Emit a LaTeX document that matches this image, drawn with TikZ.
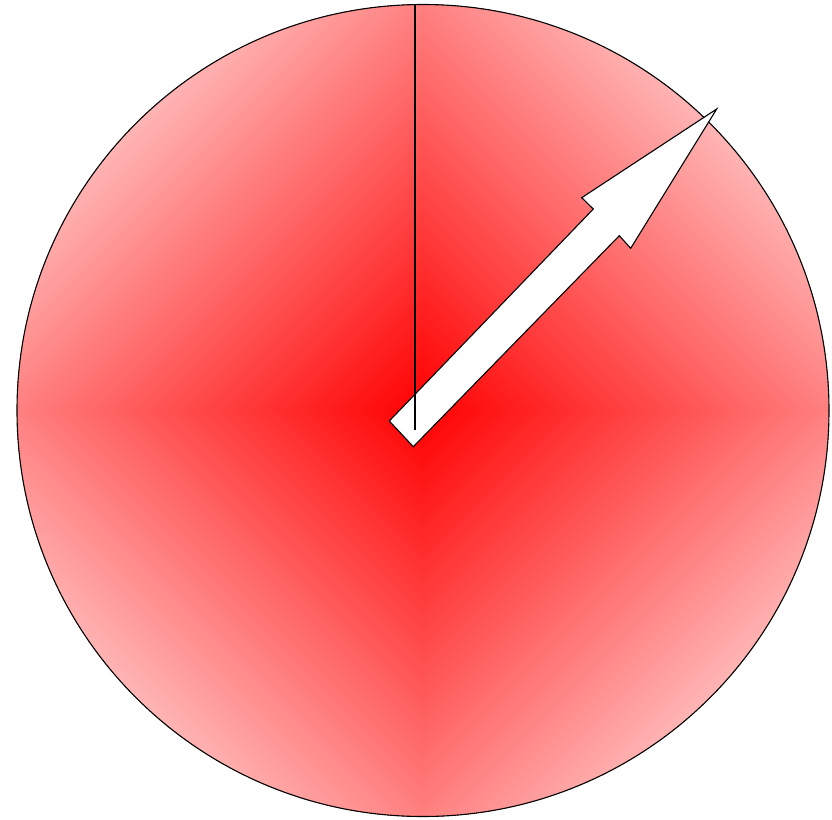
\documentclass[tikz,border=0pt]{standalone}
\begin{document}
\begin{tikzpicture}[x=0.5pt,y=-0.5pt,
  rim/.style={draw=black,line width=0.55pt},
  needle/.style={draw=black,line width=0.55pt,fill=white,line join=miter},
  hand/.style={draw=black,line width=0.85pt}]
\useasboundingbox (0,0) rectangle (832,820);
\coordinate (c) at (423,410.5);
% diamond-contour shading (red centre, white towards the corners)
\begin{scope}
  \clip (c) circle[radius=406];
  \foreach \i in {0,...,149} {
    \pgfmathsetmacro\d{582*(1-\i/150)}
    \pgfmathsetmacro\w{100*(1-\d/812)}
    \fill[red!\w!white, shift={(c)}] (\d,0) -- (0,\d) -- (-\d,0) -- (0,-\d) -- cycle;
  }
\end{scope}
\draw[rim] (c) circle[radius=406];
% arrow
\coordinate (a1) at (389.3,421);
\coordinate (a2) at (593.3,209);
\coordinate (a3) at (581.7,197.7);
\coordinate (tip) at (716.7,109);
\coordinate (a5) at (630.7,248.3);
\coordinate (a6) at (619.3,235.7);
\coordinate (a7) at (413.3,446.7);
\path[needle] (a1) -- (a2) -- (a3) -- (tip) -- (a5) -- (a6) -- (a7) -- cycle;
% vertical line
\coordinate (lb) at (415.3,429.5);
\coordinate (lt) at (415.3,4.6);
\draw[hand] (lb) -- (lt);
\end{tikzpicture}
\end{document}
